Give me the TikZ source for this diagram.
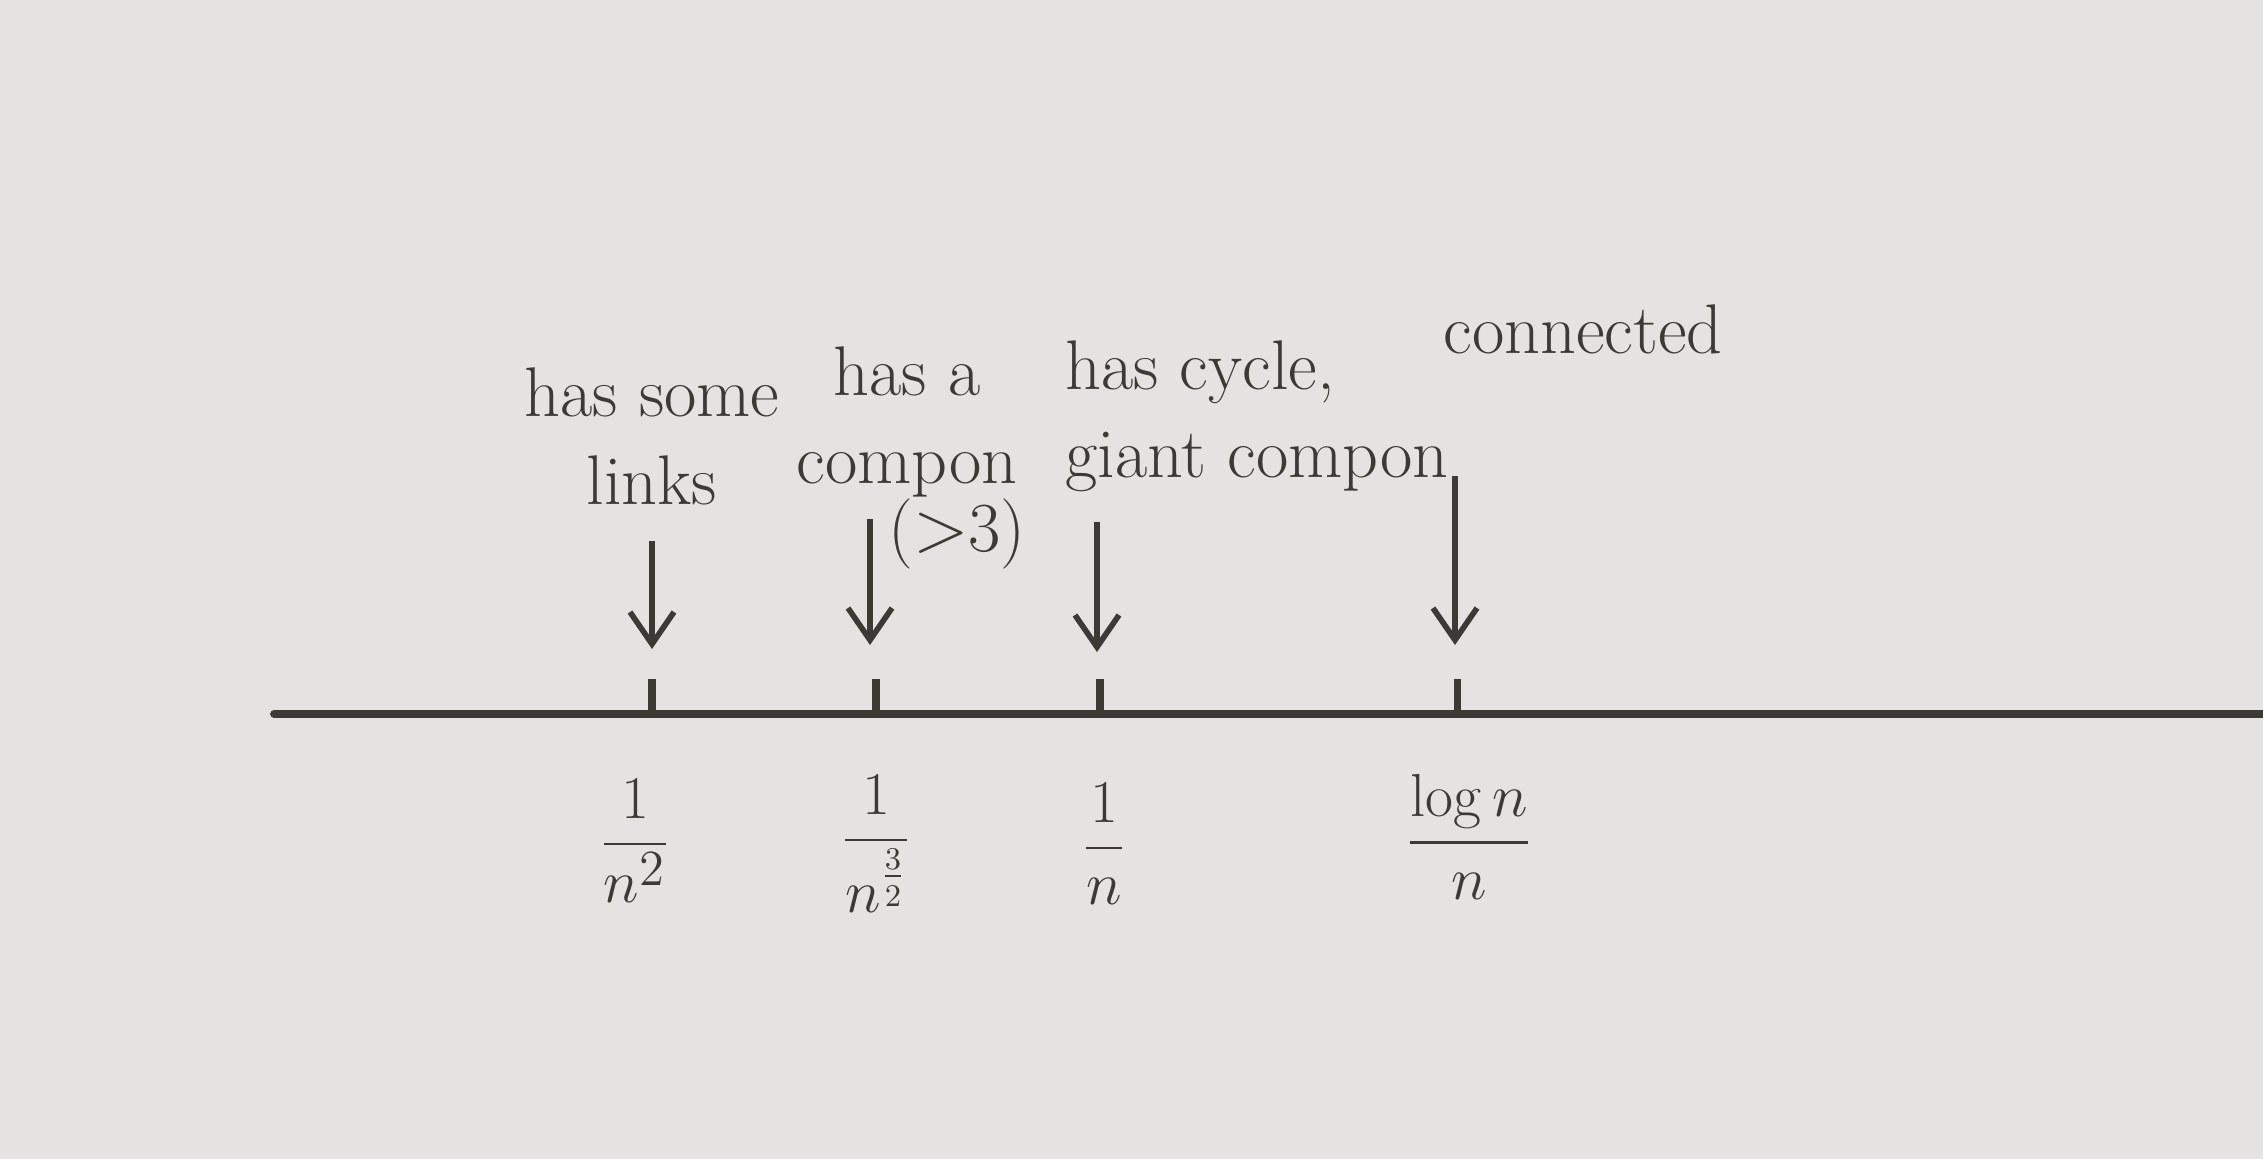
\documentclass[tikz,border=0pt]{standalone}
\usepackage{amsmath}
\usetikzlibrary{arrows.meta,positioning}
\definecolor{paper}{HTML}{E4E3E1}
\definecolor{ink}{HTML}{3B3A35}
\tikzset{
  label/.style={
    text=ink, inner sep=1pt,
    font=\fontsize{20}{25}\selectfont
  },
  frac/.style={
    text=ink, inner sep=1pt,
    font=\fontsize{19}{23}\selectfont
  },
  pointer/.style={-{Straight Barb[length=3.2mm, width=4.4mm]}, line width=1.6pt, draw=ink},
  tickmark/.style={line width=2pt, draw=ink},
  axis/.style={line width=2.2pt, draw=ink, line cap=round}
}

\begin{document}
\begin{tikzpicture}
  \fill[paper] (0,0) rectangle (22.63,11.59);
  \useasboundingbox (0,0) rectangle (22.63,11.59);
  % the axis and its marks
  \coordinate (start) at (2.74,4.45);
  \coordinate (end) at (22.63,4.45);
  \draw[axis] (start) -- (end);
  \coordinate (k1) at (6.52,4.45);
  \coordinate (k2) at (8.76,4.45);
  \coordinate (k3) at (11.00,4.45);
  \coordinate (k4) at (14.57,4.45);
  \foreach \k in {k1,k2,k3,k4}
    \draw[tickmark] (\k) -- ++(0,0.35);
  % values under the marks
  \node[frac] (f1) at (6.35,3.18) {$\displaystyle\frac{1}{n^2}$};
  \node[frac] (f2) at (8.76,3.15) {$\displaystyle\frac{1}{n^{\frac{3}{2}}}$};
  \node[frac] (f3) at (11.04,3.15) {$\displaystyle\frac{1}{n}$};
  \node[frac] (f4) at (14.69,3.22) {$\displaystyle\frac{\log n}{n}$};
  % what happens at each mark
  \node[label, align=center] (links) at (6.52,7.23) {has some\\links};
  \node[label, align=center] (compon) at (9.07,7.37) {has a\\compon};
  \node[label] (more) at (9.57,6.25) {($>$3)};
  \node[label, align=left, anchor=west] (giant) at (10.61,7.43) {has cycle,\\giant compon};
  \node[label] (conn) at (15.83,8.30) {connected};
  \coordinate (a1) at (6.52,6.18);
  \coordinate (a2) at (8.70,6.40);
  \coordinate (a3) at (10.97,6.37);
  \coordinate (a4) at (14.55,6.83);
  \coordinate (p1) at (6.52,5.10);
  \coordinate (p2) at (8.70,5.14);
  \coordinate (p3) at (10.97,5.07);
  \coordinate (p4) at (14.55,5.14);
  \draw[pointer] (a1) -- (p1);
  \draw[pointer] (a2) -- (p2);
  \draw[pointer] (a3) -- (p3);
  \draw[pointer] (a4) -- (p4);
\end{tikzpicture}
\end{document}
